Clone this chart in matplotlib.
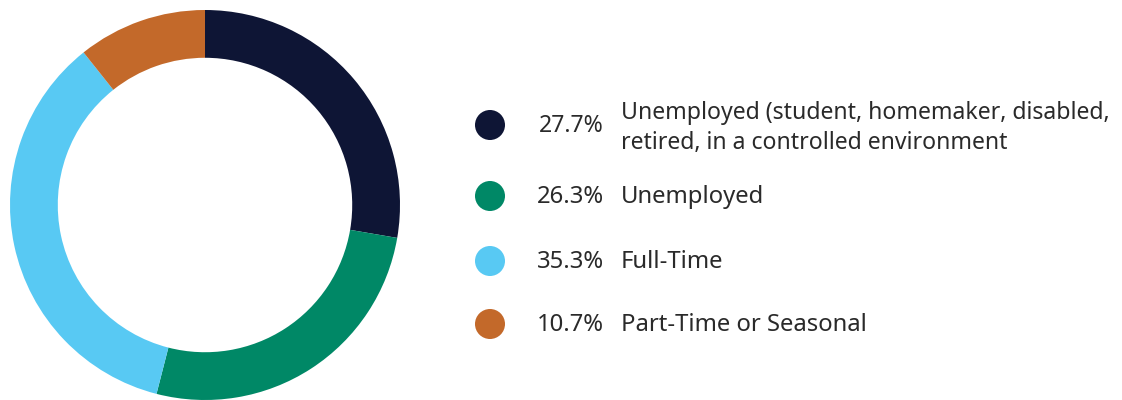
import matplotlib
matplotlib.use("Agg")
import matplotlib.pyplot as plt

labels = ["Unemployed (student, homemaker, disabled,\nretired, in a controlled environment",
          "Unemployed", "Full-Time", "Part-Time or Seasonal"]
values = [27.7, 26.3, 35.3, 10.7]
pct_labels = ["27.7%", "26.3%", "35.3%", "10.7%"]
colors = ["#0E1535", "#008866", "#58C9F3", "#C3692A"]

plt.rcParams['font.family'] = ['Noto Sans', 'DejaVu Sans']

W, H = 1122, 400
fig = plt.figure(figsize=(W / 100, H / 100), dpi=100)

ax = fig.add_axes([10 / W, 0 / H, 390 / W, 390 / H])
ax.pie(values, colors=colors, startangle=90, counterclock=False, radius=1.0,
       wedgeprops=dict(width=0.245, edgecolor='none'))
ax.set_xlim(-1, 1)
ax.set_ylim(-1, 1)
ax.set_aspect('equal')
ax.axis('off')

# legend in pixel coordinates (y from top)
lax = fig.add_axes([0, 0, 1, 1])
lax.set_xlim(0, W)
lax.set_ylim(H, 0)
lax.axis('off')
row_y = [125, 196, 261, 324]
lax.scatter([490] * 4, row_y, s=467, c=colors, edgecolors='none')
for i, (p, lab, y) in enumerate(zip(pct_labels, labels, row_y)):
    fs = 16.6 if i == 0 else 17.2
    lax.text(604, y + 1, p, ha='right', va='center', fontsize=fs, color='#2a2a2a')
    lax.text(621, y + (3 if i == 0 else 1), lab, ha='left', va='center', fontsize=fs,
             color='#2a2a2a', linespacing=1.38)

fig.savefig("out.png", dpi=100)
